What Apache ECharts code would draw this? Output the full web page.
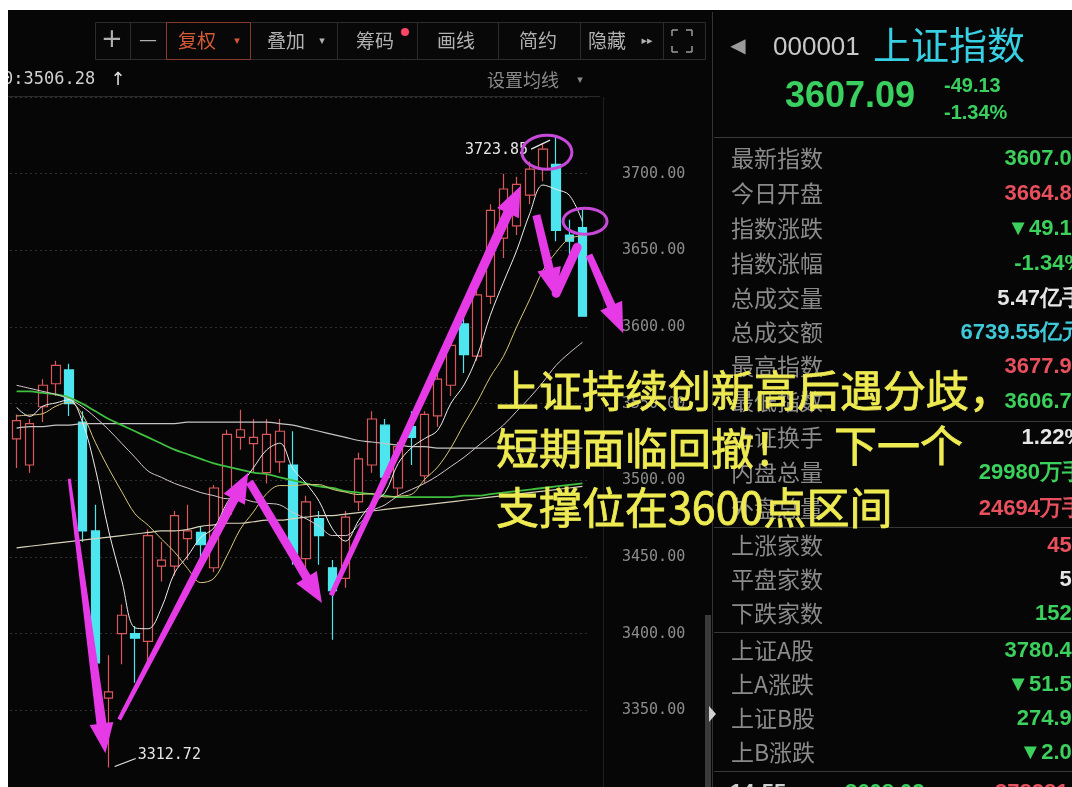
<!DOCTYPE html>
<html><head><meta charset="utf-8">
<script src="https://cdn.jsdelivr.net/npm/echarts/dist/echarts.min.js"></script>
<style>html,body{margin:0;padding:0;background:#fff}#c{width:1072px;height:787px}</style>
</head><body><div id="c"></div>
<script>
// ---- chart data ----
const dates = ['07-19','07-20','07-21','07-22','07-23','07-26','07-27','07-28','07-29','07-30','08-02','08-03','08-04','08-05','08-06','08-09','08-10','08-11','08-12','08-13','08-16','08-17','08-18','08-19','08-20','08-23','08-24','08-25','08-26','08-27','08-30','08-31','09-01','09-02','09-03','09-06','09-07','09-08','09-09','09-10','09-13','09-14','09-15','09-16'];
const opens  = [3527,3510,3548,3563,3572,3538,3467,3358,3400,3400,3395,3444,3444,3462,3466,3443,3478,3528,3524,3505,3512,3510,3449,3475,3443,3436,3486,3510,3536,3495,3535,3503,3542,3562,3602,3581,3620,3658,3666,3686,3703,3706,3660,3664.84];
const closes = [3539,3537,3562,3575,3550,3467,3381,3362,3412,3397,3464,3448,3477,3467,3458,3495,3530,3533,3528,3530,3532,3452,3486,3464,3428,3476,3514,3540,3502,3522,3528,3543,3566,3588,3582,3621,3676,3690,3693,3703,3716,3663,3656,3607.09];
const lows   = [3508,3505,3538,3555,3542,3460,3374,3312.72,3380,3368,3378,3434,3438,3448,3445,3440,3472,3520,3505,3498,3505,3445,3440,3445,3396,3430,3480,3505,3498,3490,3510,3498,3535,3555,3570,3578,3615,3645,3660,3680,3695,3656,3642,3606.7];
const highs  = [3543,3540,3566,3578,3576,3545,3484,3386,3419,3405,3468,3460,3480,3484,3470,3497,3533,3546,3540,3540,3540,3532,3490,3480,3448,3480,3518,3545,3540,3525,3545,3545,3570,3596,3606,3624,3680,3700,3698,3708,3720,3723.85,3670,3677.9];
const ma5  = [3547.6,3541.7,3548.4,3550.5,3552.6,3538.2,3507,3467,3434.4,3403.8,3403.2,3416.6,3439.6,3450.6,3462.8,3469,3485.4,3496.6,3508.2,3519.8,3524.2,3507.6,3498,3486.2,3468.4,3460.4,3473.8,3484.8,3492,3511,3521.2,3527.2,3532.6,3550.2,3562.2,3581,3607.6,3629.2,3649.8,3674,3692.6,3689.8,3686,3668.8];
const ma10 = [3542,3542.6,3543.5,3548.4,3551,3542.9,3524.4,3507.7,3492.5,3478.2,3470.7,3461.8,3453.3,3442.5,3433.3,3436.1,3451,3468.1,3479.4,3491.3,3496.6,3496.5,3497.3,3497.2,3494.1,3492.3,3490.7,3491.4,3489.1,3489.7,3490.8,3500.5,3508.7,3521.1,3536.6,3551.1,3567.4,3580.9,3600,3618.1,3636.8,3648.7,3657.6,3659.3];
const ma20 = [3562,3560,3558,3556,3553,3548,3541,3533,3524,3515,3506,3502,3498,3495,3492,3490,3488,3488,3486,3485,3484,3479,3475,3470,3464,3464,3471,3480,3484,3490,3494,3498,3503,3509,3515,3522,3529,3536,3545,3554,3564,3575,3583,3590];
const ma30 = [3558,3558,3557,3556,3554,3550,3545,3540,3536,3532,3528,3524,3520,3517,3514,3511,3509,3507,3505,3504,3502,3500,3498,3496,3495,3493,3492,3491,3490,3489,3489,3489,3489,3489,3490,3490,3491,3492,3493,3494,3495,3496,3497,3498];
const ma60 = [3534,3535,3535,3536,3536,3537,3537,3537,3537,3537,3537,3537,3537,3538,3538,3538,3538,3538,3538,3538,3537,3536,3534,3532,3530,3528,3526,3525,3524,3523,3522,3522,3521,3521,3521,3521,3521,3521,3521,3521,3521,3521,3521,3521];
const ma120 = [3456,3457,3458,3459,3460,3461,3462,3463,3464,3465,3466,3467,3467,3468,3470,3471,3472,3472,3473,3474,3474,3475,3476,3477,3477,3478,3479,3480,3481,3482,3483,3484,3485,3486,3487,3488,3489,3490,3491,3492,3493,3494,3495,3496];
const yMin = 3300, yMax = 3750, yStep = 50;
const highLabel = {idx: 41, value: 3723.85, text: '3723.85'};
const lowLabel = {idx: 7, value: 3312.72, text: '3312.72'};
// annotation arrows in data coordinates [index, value]
const arrows = [
  {from:[4.0,3501], to:[6.75,3322], w0:3, w1:10},
  {from:[7.8,3344], to:[17.6,3505], w0:4, w1:9},
  {from:[17.7,3499], to:[23.2,3420], w0:8, w1:9},
  {from:[23.9,3425], to:[38.3,3692], w0:5, w1:10},
  {from:[39.5,3673], to:[41.0,3619], w0:8, w1:9},
  {from:[43.5,3647], to:[46.1,3596], w0:7, w1:9}
];
const mStroke = [[41.0,3622],[42.6,3652]];
const rings = [{c:[40.3,3714], rx:25, ry:17},{c:[43.2,3669], rx:22, ry:13}];
// right panel
const panelLabels = ['最新指数','今日开盘','指数涨跌','指数涨幅','总成交量','总成交额','最高指数','最低指数','上证换手','内盘总量','外盘总量','上涨家数','平盘家数','下跌家数','上证A股','上A涨跌','上证B股','上B涨跌'];
const panelValues = ['3607.09','3664.84','▼49.13','-1.34%','5.47亿手','6739.55亿元','3677.92','3606.72','1.22%','29980万手','24694万手','458','55','1523','3780.45','▼51.59','274.95','▼2.01'];
const panelTones  = ['g','r','g','g','w','c','r','g','w','g','r','r','w','g','g','g','g','g'];
const panelRowsY  = [158,193,228,263,298,332,366,401,437,472,508,545,579,613,650,684,718,752];

const toneColor = {g:'#3cd05c', r:'#e8505e', w:'#e6e6e6', c:'#3ec8d8'};
const chart = echarts.init(document.getElementById('c'));
const mkLine = (name, data, color, w) => ({type:'line', name, data, symbol:'none', smooth:0.35,
  lineStyle:{color, width:w}, z:3, silent:true});
chart.setOption({
  animation:false,
  backgroundColor:'#060606',
  grid:{left:10, top:97, width:579, height:693},
  xAxis:{type:'category', data:dates, show:false, boundaryGap:true},
  yAxis:{type:'value', position:'right', min:yMin, max:yMax, interval:yStep,
    axisLine:{show:false}, axisTick:{show:false},
    splitLine:{lineStyle:{color:'#2f2f2f', type:[2,3]}},
    axisLabel:{margin:33, color:'#8c8c8c', fontFamily:'DejaVu Sans Mono', fontSize:15,
      showMinLabel:false, showMaxLabel:false, formatter:v=>v.toFixed(2)}},
  series:[
    mkLine('MA120', ma120, '#d8d2b8', 1.2),
    mkLine('MA60', ma60, '#c4c4c4', 1.2),
    mkLine('MA30', ma30, '#3fbf3f', 1.8),
    mkLine('MA20', ma20, '#d6c6cc', 1),
    mkLine('MA10', ma10, '#d8c878', 1),
    mkLine('MA5', ma5, '#ececec', 1),
    {type:'candlestick', data:opens.map((o,i)=>[o,closes[i],lows[i],highs[i]]), barWidth:9, z:2,
     itemStyle:{color:'#060606', color0:'#4ee6ee', borderColor:'#d9585c', borderColor0:'#4ee6ee', borderWidth:1.2}}
  ]
});

function toPx(i, v){
  const a = chart.convertToPixel({xAxisIndex:0,yAxisIndex:0},[0,v]);
  const b = chart.convertToPixel({xAxisIndex:0,yAxisIndex:0},[1,v]);
  return [a[0]+(b[0]-a[0])*i, a[1]];
}
function arrowPoly(S,T,w0,w1,hw,hl){
  const dx=T[0]-S[0], dy=T[1]-S[1], L=Math.hypot(dx,dy), ux=dx/L, uy=dy/L, nx=-uy, ny=ux;
  const B=[T[0]-ux*hl, T[1]-uy*hl];
  return [[S[0]+nx*w0/2,S[1]+ny*w0/2],[B[0]+nx*w1/2,B[1]+ny*w1/2],[B[0]+nx*hw/2,B[1]+ny*hw/2],T,
          [B[0]-nx*hw/2,B[1]-ny*hw/2],[B[0]-nx*w1/2,B[1]-ny*w1/2],[S[0]-nx*w0/2,S[1]-ny*w0/2]];
}
const T = (x,y,text,font,fill,align,z,extra) => Object.assign({type:'text', x, y, z:z||20,
  style:Object.assign({text, font, fill, align:align||'left', verticalAlign:'middle', textAlign:align||'left', textVerticalAlign:'middle'}, extra||{})});
const R = (x,y,w,h,fill,stroke,z) => ({type:'rect', shape:{x,y,width:w,height:h}, z:z||5, style:{fill:fill||'none', stroke:stroke||'none', lineWidth:1}});
const Ln = (x1,y1,x2,y2,color,w,z) => ({type:'line', shape:{x1,y1,x2,y2}, z:z||6, style:{stroke:color, lineWidth:w||1}});

const g = [];
const MAG = '#e63ae6';
// top toolbar
g.push(R(95.5,22.5,610,37,'#080808','#2c2c2c',5));
[130,166,250,337,417,498,580,663].forEach(x=>g.push(Ln(x+0.5,22,x+0.5,60,'#2c2c2c',1,6)));
g.push(R(166.5,22.5,84,37,'none','#8a3a2c',7));
const tf = '19px "Noto Sans CJK SC"';
g.push(T(112,40,'+','26px "DejaVu Sans"','#b0b0b0','center'));
g.push(T(148,40,'—','18px "DejaVu Sans"','#b0b0b0','center'));
g.push(T(197,41,'复权',tf,'#d65a38','center'));
g.push(T(237,41,'▾','11px "DejaVu Sans"','#d65a38','center'));
g.push(T(286,41,'叠加',tf,'#b0b0b0','center'));
g.push(T(322,41,'▾','11px "DejaVu Sans"','#b0b0b0','center'));
g.push(T(375,41,'筹码',tf,'#b0b0b0','center'));
g.push({type:'circle', shape:{cx:405,cy:32,r:4}, z:8, style:{fill:'#ff4466'}});
g.push(T(456,41,'画线',tf,'#b0b0b0','center'));
g.push(T(538,41,'简约',tf,'#b0b0b0','center'));
g.push(T(607,41,'隐藏',tf,'#b0b0b0','center'));
g.push(T(647,41,'▸▸','11px "DejaVu Sans"','#b0b0b0','center'));
[[672,30,678,30,672,36],[692,30,686,30,692,36],[672,52,678,52,672,46],[692,52,686,52,692,46]].forEach(p=>{
  g.push({type:'polyline', shape:{points:[[p[0],p[1]],[p[2],p[3]]]}, z:8, style:{stroke:'#9a9a9a',lineWidth:1.5}});
  g.push({type:'polyline', shape:{points:[[p[0],p[1]],[p[4],p[5]]]}, z:8, style:{stroke:'#9a9a9a',lineWidth:1.5}});
});
// second header row
g.push(T(3,80,'0:3506.28','17px "DejaVu Sans Mono"','#d0d0d0','left'));
g.push(T(118,80,'↑','18px "DejaVu Sans"','#e0e0e0','center'));
g.push(T(487,80,'设置均线','18px "Noto Sans CJK SC"','#8a8a8a','left'));
g.push(T(580,80,'▾','11px "DejaVu Sans"','#8a8a8a','center'));
g.push(Ln(8,96.5,600,96.5,'#2a2a2a',1));
g.push(Ln(603.5,97,603.5,787,'#1e1e1e',1));
// right panel
g.push(Ln(712.5,12,712.5,787,'#333',1));
g.push(R(705,615,6,172,'#3a3a3a','none',6));
g.push({type:'polygon', shape:{points:[[709,706],[716,714],[709,722]]}, z:8, style:{fill:'#d0d0d0'}});
g.push(T(738,47,'◀','20px "DejaVu Sans"','#9a9a9a','center'));
g.push(T(773,48,'000001','26px "Liberation Sans"','#c8c8c8','left'));
g.push(T(873,45,'上证指数','38px "Noto Sans CJK SC"','#36d0e2','left'));
g.push(T(785,97,'3607.09','bold 36px "Liberation Sans"','#3ad060','left'));
g.push(T(944,86,'-49.13','bold 20px "Liberation Sans"','#3ad060','left'));
g.push(T(944,113,'-1.34%','bold 20px "Liberation Sans"','#3ad060','left'));
[137,421,527,632,771].forEach(y=>g.push(Ln(714,y+0.5,1072,y+0.5,'#383838',1)));
panelLabels.forEach((lab,i)=>{
  g.push(T(731,panelRowsY[i],lab,'23px "Noto Sans CJK SC"','#8a8a8a','left'));
  g.push(T(1084,panelRowsY[i]+1,panelValues[i],'bold 22px "Liberation Sans"',toneColor[panelTones[i]],'right'));
});
g.push(T(730,793,'14:55','bold 22px "Liberation Sans"','#cfcfcf','left'));
g.push(T(845,793,'3608.02','bold 22px "Liberation Sans"','#3ad060','left'));
g.push(T(995,793,'378281','bold 22px "Liberation Sans"','#e8505e','left'));
// high / low labels
const hp = toPx(highLabel.idx, highLabel.value), lp = toPx(lowLabel.idx, lowLabel.value);
g.push(T(hp[0]-28,hp[1]+13,highLabel.text,'15px "DejaVu Sans Mono"','#e6e6e6','right',30));
g.push(Ln(hp[0]-25,hp[1]+12,hp[0]-6,hp[1]+3,'#e6e6e6',1.2,30));
g.push(T(lp[0]+29,lp[1]-12,lowLabel.text,'15px "DejaVu Sans Mono"','#e6e6e6','left',30));
g.push(Ln(lp[0]+6,lp[1]-1,lp[0]+27,lp[1]-9,'#e6e6e6',1.2,30));
// magenta annotations
arrows.forEach(a=>{
  g.push({type:'polygon', z:40, shape:{points:arrowPoly(toPx(...a.from),toPx(...a.to),a.w0,a.w1,24,30)}, style:{fill:MAG}});
});
g.push({type:'polyline', z:40, shape:{points:mStroke.map(p=>toPx(...p))}, style:{stroke:MAG, lineWidth:9, lineCap:'round'}});
rings.forEach(r=>{
  const c = toPx(...r.c);
  g.push({type:'ellipse', z:41, shape:{cx:c[0],cy:c[1],rx:r.rx,ry:r.ry}, style:{fill:'none', stroke:'#c848d8', lineWidth:3}});
});
// yellow commentary
const yf = '43px "Noto Sans CJK SC"', yc = '#eeea52';
const yx = {stroke:'#eeea52', lineWidth:0.8};
g.push(T(496,391,'上证持续创新高后遇分歧，',yf,yc,'left',100,yx));
g.push(T(496,449,'短期面临回撤！',yf,yc,'left',100,yx));
g.push(T(834,446,'下一个',yf,yc,'left',100,yx));
g.push(T(496,508,'支撑位在3600点区间',yf,yc,'left',100,yx));
// white outer margins of the screenshot
g.push(R(0,0,1072,10,'#ffffff','none',200));
g.push(R(0,0,8,787,'#ffffff','none',200));
chart.setOption({graphic:{elements:g}});
</script></body></html>
